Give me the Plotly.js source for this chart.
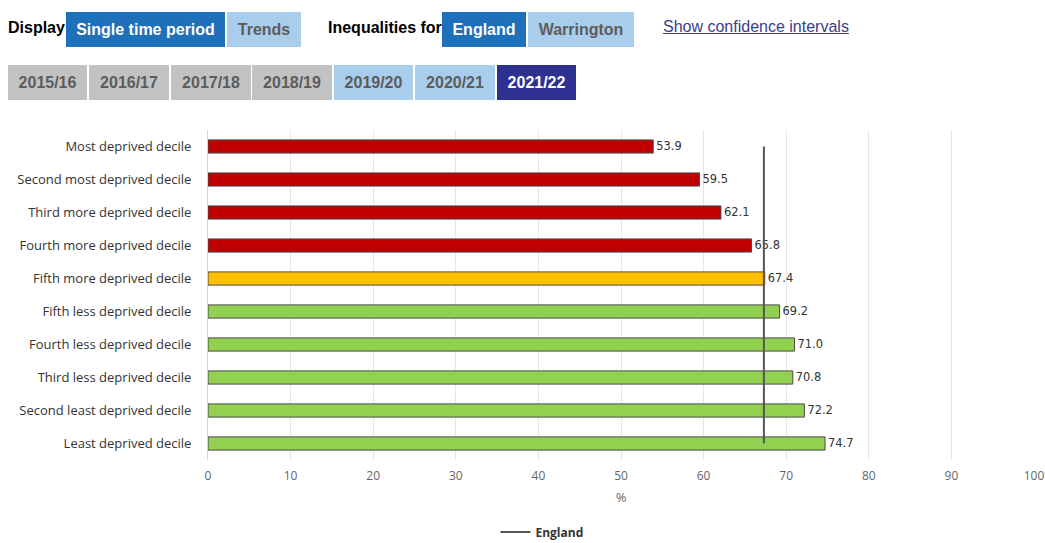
<!DOCTYPE html>
<html>
<head>
<meta charset="utf-8">
<script src="https://cdn.plot.ly/plotly-3.0.1.min.js"></script>
<style>
  html, body { margin:0; padding:0; background:#fff; width:1045px; height:543px; overflow:hidden; }
  #top { position:absolute; left:0; top:0; width:1045px; height:110px; font-family:"Liberation Sans", Arial, sans-serif; }
  .lbl { position:absolute; font-weight:bold; font-size:16px; color:#000; line-height:36px; }
  .btn { position:absolute; font-weight:bold; font-size:16px; line-height:35px; height:35px; text-align:center; box-sizing:border-box; }
  .dark { background:#1e70b8; color:#fff; }
  .light { background:#a9cdec; color:#5c5c5c; }
  .grey { background:#c2c2c2; color:#5c5c5c; }
  .navy { background:#2e3192; color:#fff; }
  .link { position:absolute; font-size:16px; color:#3c3c8c; text-decoration:underline; line-height:36px; }
  #chart { position:absolute; left:0; top:0; width:1045px; height:543px; }
</style>
</head>
<body>
<div id="chart"></div>
<div id="top">
  <div class="lbl" style="left:8px;top:10px;">Display</div>
  <div class="btn dark" style="left:66px;top:12px;width:159px;">Single time period</div>
  <div class="btn light" style="left:227px;top:12px;width:74px;">Trends</div>
  <div class="lbl" style="left:328px;top:10px;">Inequalities for</div>
  <div class="btn dark" style="left:442px;top:12px;width:84px;">England</div>
  <div class="btn light" style="left:528px;top:12px;width:106px;">Warrington</div>
  <div class="link" style="left:663px;top:9px;">Show confidence intervals</div>
  <div class="btn grey" style="left:8px;top:65px;width:79px;">2015/16</div>
  <div class="btn grey" style="left:89px;top:65px;width:80px;">2016/17</div>
  <div class="btn grey" style="left:171px;top:65px;width:80px;">2017/18</div>
  <div class="btn grey" style="left:252px;top:65px;width:80px;">2018/19</div>
  <div class="btn light" style="left:334px;top:65px;width:79px;">2019/20</div>
  <div class="btn light" style="left:415px;top:65px;width:80px;">2020/21</div>
  <div class="btn navy" style="left:497px;top:65px;width:79px;">2021/22</div>
</div>
<script>
const categories = [
  "Most deprived decile",
  "Second most deprived decile",
  "Third more deprived decile",
  "Fourth more deprived decile",
  "Fifth more deprived decile",
  "Fifth less deprived decile",
  "Fourth less deprived decile",
  "Third less deprived decile",
  "Second least deprived decile",
  "Least deprived decile"
];
const values = [53.9, 59.5, 62.1, 65.8, 67.4, 69.2, 71.0, 70.8, 72.2, 74.7];
const labels = ["53.9", "59.5", "62.1", "65.8", "67.4", "69.2", "71.0", "70.8", "72.2", "74.7"];
const significance = ["worse", "worse", "worse", "worse", "similar", "better", "better", "better", "better", "better"];
const englandValue = 67.3;
const xTicks = [0, 10, 20, 30, 40, 50, 60, 70, 80, 90, 100];

const colourFor = { worse: "#c00000", similar: "#ffc000", better: "#92d050" };

const bars = {
  type: "bar",
  orientation: "h",
  y: categories,
  x: values,
  text: labels,
  textposition: "outside",
  cliponaxis: false,
  textfont: { family: "DejaVu Sans, Verdana, sans-serif", size: 13, color: "#333333" },
  marker: { color: significance.map(s => colourFor[s]), line: { color: "#4a4a4a", width: 1 } },
  width: 0.4,
  showlegend: false,
  hoverinfo: "y+x"
};

const england = {
  type: "scatter",
  mode: "lines",
  name: "England",
  x: [englandValue, englandValue],
  y: [categories[0], categories[categories.length - 1]],
  line: { color: "#555555", width: 2 },
  showlegend: true
};

const layout = {
  width: 1045,
  height: 543,
  margin: { l: 208, r: 11, t: 130, b: 83, autoexpand: false },
  paper_bgcolor: "rgba(0,0,0,0)",
  plot_bgcolor: "#ffffff",
  font: { family: "Open Sans, sans-serif", size: 13, color: "#333333" },
  xaxis: {
    range: [0, 100],
    tickvals: xTicks,
    ticktext: xTicks.map(String),
    showgrid: true,
    gridcolor: "#e6e6e6",
    gridwidth: 1,
    zeroline: false,
    showline: false,
    ticks: "",
    ticklabelstandoff: 7,
    tickfont: { family: "Open Sans, sans-serif", size: 12, color: "#666666" },
    title: { text: "%", font: { family: "Open Sans, sans-serif", size: 13, color: "#666666" }, standoff: 9 }
  },
  yaxis: {
    type: "category",
    autorange: "reversed",
    showgrid: false,
    zeroline: false,
    showline: true,
    linecolor: "#ccd6eb",
    linewidth: 1,
    ticks: "",
    ticklabelstandoff: 13,
    tickfont: { family: "Open Sans, sans-serif", size: 13, color: "#333333" }
  },
  bargap: 0.6,
  showlegend: true,
  legend: {
    orientation: "h",
    xref: "paper",
    x: 0.348,
    xanchor: "left",
    yref: "container",
    y: 0.047,
    yanchor: "top",
    font: { family: "Open Sans, sans-serif", size: 12, color: "#333333", weight: "bold" },
    bgcolor: "rgba(0,0,0,0)"
  }
};

Plotly.newPlot("chart", [bars, england], layout, { displayModeBar: false, staticPlot: true });
</script>
</body>
</html>
